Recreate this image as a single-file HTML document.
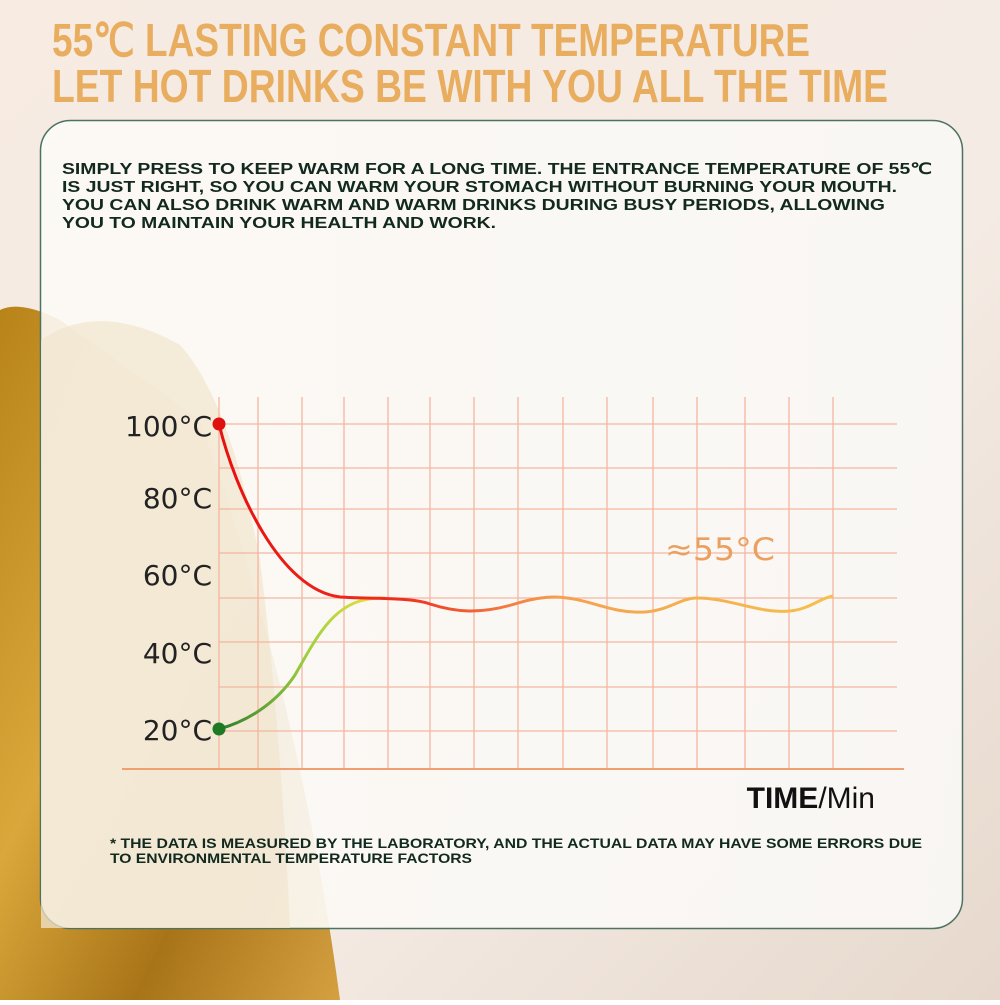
<!DOCTYPE html>
<html><head><meta charset="utf-8"><style>html,body{margin:0;padding:0}body{width:1000px;height:1000px;overflow:hidden}</style></head>
<body>
<svg width="1000" height="1000" viewBox="0 0 1000 1000" xmlns="http://www.w3.org/2000/svg">
<defs>
<linearGradient id="bg" x1="0" y1="0" x2="1" y2="1">
<stop offset="0" stop-color="#f7ebe2"/><stop offset="0.6" stop-color="#f4ebe4"/><stop offset="1" stop-color="#e6d8cc"/>
</linearGradient>
<linearGradient id="gold" x1="0" y1="0" x2="1" y2="1">
<stop offset="0" stop-color="#b8841a"/><stop offset="0.4" stop-color="#d9a73a"/><stop offset="0.7" stop-color="#a87418"/><stop offset="1" stop-color="#d4a040"/>
</linearGradient>
<linearGradient id="card" x1="0" y1="0" x2="1" y2="0">
<stop offset="0" stop-color="#fdfbf7" stop-opacity="0.9"/><stop offset="1" stop-color="#f9f7f4" stop-opacity="0.97"/>
</linearGradient>
<linearGradient id="gr" x1="219" y1="0" x2="380" y2="0" gradientUnits="userSpaceOnUse">
<stop offset="0" stop-color="#2a7a2a"/><stop offset="0.55" stop-color="#9fd040"/><stop offset="1" stop-color="#f0e040"/>
</linearGradient>
<linearGradient id="rd" x1="219" y1="0" x2="833" y2="0" gradientUnits="userSpaceOnUse">
<stop offset="0" stop-color="#e81010"/><stop offset="0.3" stop-color="#ee3020"/><stop offset="0.55" stop-color="#f5a050"/><stop offset="1" stop-color="#f5c050"/>
</linearGradient>
</defs>
<rect width="1000" height="1000" fill="url(#bg)"/>
<path d="M0 310 Q20 300 60 320 L200 420 Q300 700 340 1000 L0 1000 Z" fill="url(#gold)"/>
<rect x="40.5" y="120.5" width="922" height="808" rx="30" fill="url(#card)" stroke="#4d7262" stroke-width="1.5"/>
<path d="M41 340 Q100 300 180 345 Q230 400 260 560 Q280 720 290 928 L41 928 Z" fill="#f1e6cf" opacity="0.75"/>
<g font-family="Liberation Sans, sans-serif" font-weight="bold" fill="#e8ad5e" font-size="46">
<text x="52" y="56" textLength="758" lengthAdjust="spacingAndGlyphs">55℃ LASTING CONSTANT TEMPERATURE</text>
<text x="52" y="102" textLength="836" lengthAdjust="spacingAndGlyphs">LET HOT DRINKS BE WITH YOU ALL THE TIME</text>
</g>
<g font-family="Liberation Sans, sans-serif" font-weight="bold" fill="#12291f" font-size="16">
<text x="62" y="174" textLength="870" lengthAdjust="spacingAndGlyphs">SIMPLY PRESS TO KEEP WARM FOR A LONG TIME. THE ENTRANCE TEMPERATURE OF 55℃</text>
<text x="62" y="192" textLength="835" lengthAdjust="spacingAndGlyphs">IS JUST RIGHT, SO YOU CAN WARM YOUR STOMACH WITHOUT BURNING YOUR MOUTH.</text>
<text x="62" y="210" textLength="823" lengthAdjust="spacingAndGlyphs">YOU CAN ALSO DRINK WARM AND WARM DRINKS DURING BUSY PERIODS, ALLOWING</text>
<text x="62" y="228" textLength="434" lengthAdjust="spacingAndGlyphs">YOU TO MAINTAIN YOUR HEALTH AND WORK.</text>
</g>
<g stroke="#f3b6a0" stroke-width="1.3" fill="none">
<path d="M219 397V769M258 397V769M302 397V769M344 397V769M388 397V769M430 397V769M474 397V769M518 397V769M563 397V769M607 397V769M653 397V769M697 397V769M745 397V769M789 397V769M833 397V769"/>
<path d="M219 424H897M219 468H897M219 509H897M219 553H897M219 598H897M219 642H897M219 687H897M219 731H897"/>
</g>
<line x1="122" y1="769" x2="904" y2="769" stroke="#f0a070" stroke-width="2"/>
<g font-family="DejaVu Sans, sans-serif" font-size="28" fill="#222" text-anchor="end">
<text x="212" y="436" textLength="87" lengthAdjust="spacingAndGlyphs">100°C</text><text x="212" y="508">80°C</text><text x="212" y="585">60°C</text><text x="212" y="663">40°C</text><text x="212" y="740">20°C</text>
</g>
<path d="M219 729 C245 722 275 705 295 675 C315 640 330 610 360 601 C370 598 378 598 385 598" stroke="url(#gr)" stroke-width="3" fill="none"/>
<path d="M219 424 C235 490 280 590 340 597 C370 599 410 597 430 604 C455 612 480 615 518 603 C535 598 545 597 555 597 C590 598 610 614 645 612 C670 610 680 598 697 598 C730 598 760 614 790 611 C810 609 820 598 833 596" stroke="url(#rd)" stroke-width="3" fill="none"/>
<circle cx="219" cy="424" r="6.5" fill="#e01010"/>
<circle cx="219" cy="729" r="6.5" fill="#1e7a22"/>
<text x="665" y="560" font-family="DejaVu Sans, sans-serif" font-size="31" fill="#eba060" textLength="110" lengthAdjust="spacingAndGlyphs">≈55°C</text>
<text x="875" y="808" font-family="Liberation Sans, sans-serif" font-size="30" fill="#111" text-anchor="end"><tspan font-weight="bold">TIME</tspan>/Min</text>
<g font-family="Liberation Sans, sans-serif" font-weight="bold" fill="#12291f" font-size="14">
<text x="110" y="848" textLength="812" lengthAdjust="spacingAndGlyphs">* THE DATA IS MEASURED BY THE LABORATORY, AND THE ACTUAL DATA MAY HAVE SOME ERRORS DUE</text>
<text x="110" y="863" textLength="362" lengthAdjust="spacingAndGlyphs">TO ENVIRONMENTAL TEMPERATURE FACTORS</text>
</g>
</svg>
</body></html>
